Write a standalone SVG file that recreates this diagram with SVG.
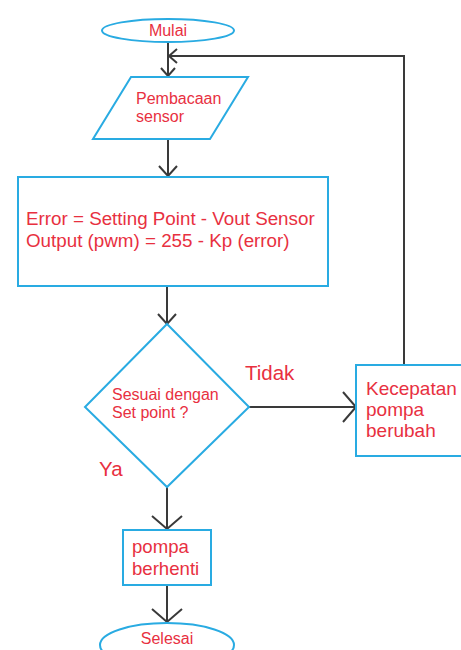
<svg xmlns="http://www.w3.org/2000/svg" width="461" height="650" viewBox="0 0 461 650">
<style>
.shape{fill:#ffffff;stroke:#29abe2;stroke-width:2}
.lbl{fill:#e8303f;font-family:"Liberation Sans",Arial,sans-serif}
.con{fill:none;stroke:#3a3a3a;stroke-width:2}
.ah{fill:none;stroke:#3a3a3a;stroke-width:2}
</style>
<defs>
<marker id="aS" markerUnits="userSpaceOnUse" viewBox="-20 -16 22 32" refX="0" refY="0" markerWidth="22" markerHeight="32" orient="auto" overflow="visible"><path class="ah" d="M-8,-7 L0,0 L-8,7"/></marker>
<marker id="aM" markerUnits="userSpaceOnUse" viewBox="-20 -16 22 32" refX="0" refY="0" markerWidth="22" markerHeight="32" orient="auto" overflow="visible"><path class="ah" d="M-10,-9 L0,0 L-10,9"/></marker>
<marker id="aL" markerUnits="userSpaceOnUse" viewBox="-20 -16 22 32" refX="0" refY="0" markerWidth="22" markerHeight="32" orient="auto" overflow="visible"><path class="ah" d="M-13,-15 L0,0 L-13,15"/></marker>
</defs>
<rect width="461" height="650" fill="#ffffff"/>
<g id="connectors">
<line class="con" x1="168" y1="42" x2="168" y2="76" marker-end="url(#aS)"/>
<polyline class="con" points="404,365 404,56 169,56" marker-end="url(#aS)"/>
<line class="con" x1="168" y1="139" x2="168" y2="176" marker-end="url(#aM)"/>
<line class="con" x1="167" y1="286" x2="167" y2="324" marker-end="url(#aM)"/>
<line class="con" x1="249" y1="407" x2="356" y2="407" marker-end="url(#aL)"/>
<line class="con" x1="167" y1="487" x2="167" y2="529" marker-end="url(#aL)"/>
<line class="con" x1="167" y1="585" x2="167" y2="622" marker-end="url(#aL)"/>
</g>
<g id="mulai">
<ellipse class="shape" cx="168" cy="30.5" rx="66" ry="11.5"/>
<text class="lbl" x="168" y="35.5" font-size="16" text-anchor="middle">Mulai</text>
</g>
<g id="pembacaan">
<polygon class="shape" points="131,77 248,77 210,139 93,139"/>
<text class="lbl" x="136" y="104" font-size="16">Pembacaan</text>
<text class="lbl" x="136" y="122" font-size="16">sensor</text>
</g>
<g id="proses">
<rect class="shape" x="18" y="177" width="310" height="109"/>
<text class="lbl" x="26" y="225" font-size="18.8">Error = Setting Point - Vout Sensor</text>
<text class="lbl" x="26" y="247" font-size="18.8">Output (pwm) = 255 - Kp (error)</text>
</g>
<g id="keputusan">
<polygon class="shape" points="167,324 249,407 167,487 85,407"/>
<text class="lbl" x="112" y="400" font-size="16">Sesuai dengan</text>
<text class="lbl" x="112" y="418" font-size="16">Set point ?</text>
</g>
<g id="label-tidak">
<text class="lbl" x="245" y="380" font-size="20.5">Tidak</text>
</g>
<g id="label-ya">
<text class="lbl" x="99" y="476" font-size="20.5">Ya</text>
</g>
<g id="kecepatan">
<rect class="shape" x="356" y="365" width="112" height="91"/>
<text class="lbl" x="366" y="395" font-size="19">Kecepatan</text>
<text class="lbl" x="366" y="416" font-size="19">pompa</text>
<text class="lbl" x="366" y="437" font-size="19">berubah</text>
</g>
<g id="pompa-berhenti">
<rect class="shape" x="123" y="530" width="88" height="55"/>
<text class="lbl" x="132" y="553" font-size="18.6">pompa</text>
<text class="lbl" x="132" y="575" font-size="18.6">berhenti</text>
</g>
<g id="selesai">
<ellipse class="shape" cx="167" cy="645" rx="67" ry="22"/>
<text class="lbl" x="167" y="644" font-size="16" text-anchor="middle">Selesai</text>
</g>
</svg>
